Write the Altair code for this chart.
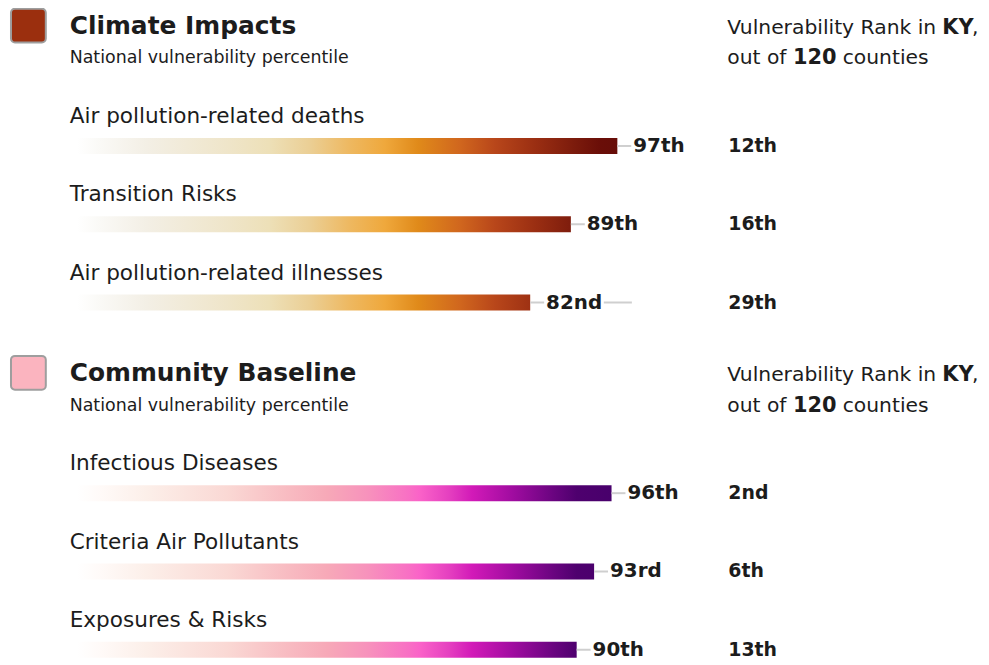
import altair as alt
import pandas as pd

# ---------------- data ----------------
SECTIONS = ["Climate Impacts", "Community Baseline"]
SUBTITLE = "National vulnerability percentile"
METRICS = [
    ["Air pollution-related deaths", "Transition Risks", "Air pollution-related illnesses"],
    ["Infectious Diseases", "Criteria Air Pollutants", "Exposures & Risks"],
]
PERCENTILES = [[97, 89, 82], [96, 93, 90]]
PCT_LABELS = [["97th", "89th", "82nd"], ["96th", "93rd", "90th"]]
RANKS = [["12th", "16th", "29th"], ["2nd", "6th", "13th"]]
STATE = "KY"
N_COUNTIES = "120"

# ---------------- layout / style ----------------
SEC_STEP = 349
TITLE_Y, SUB_Y, LABEL_Y, BAR_Y, ROW_STEP = 24, 57, 115, 145, 78.7
FONT = "DejaVu Sans"
INK = "#1c1c1c"
ICON_COLORS = ["#9b2f0e", "#fbb4bf"]

GRADS = [
    [(0, "#ffffff"), (0.04, "#ffffff"), (0.08, "#faf9f6"), (0.16, "#f3efe5"), (0.30, "#efe5c9"),
     (0.37, "#ede0b8"), (0.44, "#ebcf95"), (0.51, "#eeb860"), (0.57, "#efa83c"), (0.627, "#e08a1a"),
     (0.70, "#d0661e"), (0.76, "#b8461a"), (0.83, "#9a2e12"), (0.90, "#7a1a0c"), (0.94, "#6a0e08"),
     (1, "#630c08")],
    [(0, "#ffffff"), (0.04, "#ffffff"), (0.08, "#fffaf8"), (0.16, "#fcefe9"), (0.30, "#fad8d4"),
     (0.40, "#f8bcc2"), (0.47, "#f7a9b8"), (0.54, "#f792bc"), (0.61, "#f870c4"), (0.63, "#fa62c8"),
     (0.68, "#e540c0"), (0.72, "#d21ab8"), (0.79, "#a00ca0"), (0.86, "#6a0480"), (0.90, "#4e006e"),
     (1, "#44006a")],
]

rows = []
for s in range(len(SECTIONS)):
    for r in range(len(METRICS[s])):
        rows.append(dict(sec=s, metric=METRICS[s][r], value=PERCENTILES[s][r],
                         pct=PCT_LABELS[s][r], rank=RANKS[s][r],
                         label_y=s * SEC_STEP + LABEL_Y + r * ROW_STEP,
                         bar_y=s * SEC_STEP + BAR_Y + r * ROW_STEP))
rows = pd.DataFrame(rows)

heads = pd.DataFrame(dict(sec=list(range(len(SECTIONS))), name=SECTIONS,
                          sub=[SUBTITLE] * len(SECTIONS),
                          title_y=[s * SEC_STEP + TITLE_Y for s in range(len(SECTIONS))],
                          r1_y=[s * SEC_STEP + TITLE_Y + 2 for s in range(len(SECTIONS))],
                          sub_y=[s * SEC_STEP + SUB_Y for s in range(len(SECTIONS))]))

XS = alt.Scale(domain=[0, 100], range=[46, 630])
YS = alt.Scale(domain=[8, 660], range=[0, 652])


def X(f):
    return alt.X(f, type="quantitative", scale=XS, axis=None)


def Y(f):
    return alt.Y(f, type="quantitative", scale=YS, axis=None)


layers = []
rb = alt.Chart(rows)
hb = alt.Chart(heads)

# gradient bars (full length, then masked)
for s in range(len(SECTIONS)):
    grad = alt.Gradient(gradient="linear", x1=0, x2=1, y1=0, y2=0,
                        stops=[alt.GradientStop(offset=o, color=c) for o, c in GRADS[s]])
    layers.append(
        rb.transform_filter(f"datum.sec == {s}")
        .mark_rect(fill=grad, yOffset=-8, y2Offset=8)
        .encode(x=alt.datum(0, scale=XS, axis=None), x2=alt.datum(100), y=Y("bar_y"), y2="bar_y")
    )

layers.append(
    rb.mark_rect(fill="white", yOffset=-9, y2Offset=9, x2Offset=2)
    .encode(x=X("value"), x2=alt.datum(100), y=Y("bar_y"), y2="bar_y")
)
layers.append(
    rb.mark_rule(color="#cfcfcf", strokeWidth=2)
    .encode(x=X("value"), x2=alt.datum(99.5), y=Y("bar_y"))
)
layers.append(
    rb.mark_rect(fill="white", xOffset=14, x2Offset=74, yOffset=-3, y2Offset=3)
    .encode(x=X("value"), x2="value", y=Y("bar_y"), y2="bar_y")
)
layers.append(
    rb.mark_text(align="left", baseline="middle", dx=16, font=FONT, fontSize=20,
                 fontWeight="bold", color=INK)
    .encode(x=X("value"), y=Y("bar_y"), text="pct")
)
layers.append(
    rb.mark_text(align="left", baseline="middle", font=FONT, fontSize=19,
                 fontWeight="bold", color=INK)
    .encode(x=alt.value(724), y=Y("bar_y"), text="rank")
)
layers.append(
    rb.mark_text(align="left", baseline="middle", font=FONT, fontSize=21.7, color=INK)
    .encode(x=alt.value(62), y=Y("label_y"), text="metric")
)

# section headers
layers.append(
    hb.mark_rect(cornerRadius=4, stroke="#9e9e9e", strokeWidth=2, yOffset=-17, y2Offset=17)
    .encode(x=alt.value(3), x2=alt.value(38), y=Y("title_y"), y2="title_y",
            fill=alt.Fill("name:N", scale=alt.Scale(domain=SECTIONS, range=ICON_COLORS), legend=None))
)
layers.append(
    hb.mark_text(align="left", baseline="middle", font=FONT, fontSize=25,
                 fontWeight="bold", color=INK)
    .encode(x=alt.value(62), y=Y("title_y"), text="name")
)
layers.append(
    hb.mark_text(align="left", baseline="middle", font=FONT, fontSize=17.5, color=INK)
    .encode(x=alt.value(62), y=Y("sub_y"), text="sub")
)

# right-hand header text with bold pieces
segments = [
    ("r1_y", "Vulnerability Rank in", "normal", 723, 20.4),
    ("r1_y", STATE, "bold", 939, 21),
    ("r1_y", ",", "normal", 969, 20.4),
    ("sub_y", "out of", "normal", 723, 20.4),
    ("sub_y", N_COUNTIES, "bold", 789, 21),
    ("sub_y", "counties", "normal", 839, 20.4),
]
for yf, txt, wt, xpx, fs in segments:
    layers.append(
        hb.mark_text(align="left", baseline="middle", font=FONT, fontSize=fs,
                     fontWeight=wt, color=INK)
        .encode(x=alt.value(xpx), y=Y(yf), text=alt.value(txt))
    )

chart = (
    alt.layer(*layers)
    .properties(width=978, height=652, autosize=alt.AutoSizeParams(type="none"), padding=0)
    .configure_view(stroke=None)
)

chart.save("out.html", embed_options={"renderer": "svg", "actions": False})
